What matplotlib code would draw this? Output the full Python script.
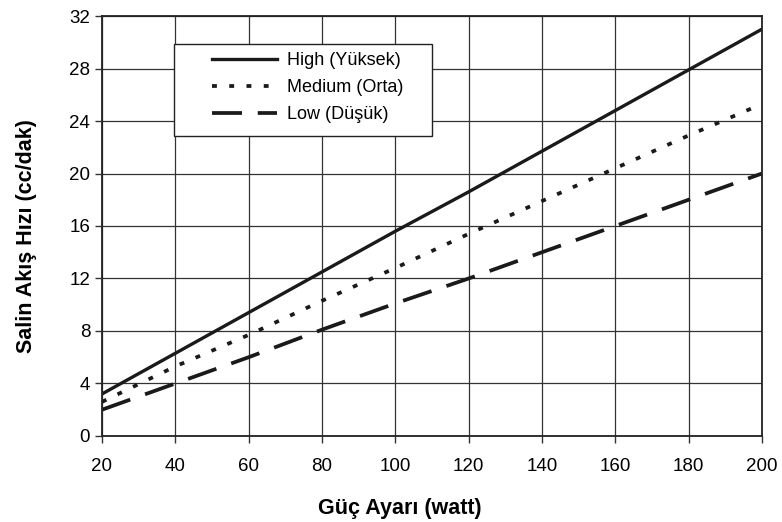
import numpy as np
import matplotlib.pyplot as plt
from matplotlib.patches import Rectangle

plt.rcParams['font.family'] = ['Liberation Sans', 'DejaVu Sans']

# Power setting (watt) and saline flow rate (cc/dak)
guc = [20, 40, 60, 80, 100, 120, 140, 160, 180, 200]
high = [3.2, 6.3, 9.4, 12.5, 15.6, 18.6, 21.7, 24.8, 27.9, 31.0]
medium = [2.6, 5.3, 7.7, 10.3, 12.8, 15.4, 17.9, 20.4, 22.9, 25.3]
low = [2.0, 4.0, 6.0, 8.1, 10.1, 12.0, 14.0, 16.0, 18.0, 20.0]

fig = plt.figure(figsize=(7.82, 5.22), dpi=100)
ax = fig.add_axes([0.1304, 0.1648, 0.8440, 0.8045])

ax.plot(guc, high, color='#1a1a1a', linewidth=2.4, linestyle='-', label='High (Yüksek)')
ax.plot(guc, medium, color='#1a1a1a', linewidth=2.7, linestyle=(0, (1.3, 3.3)), label='Medium (Orta)')
ax.plot(guc, low, color='#1a1a1a', linewidth=2.7, linestyle=(0, (8.0, 4.2)), label='Low (Düşük)')

ax.set_xlim(20, 200)
ax.set_ylim(0, 32)
ax.set_xticks(np.arange(20, 201, 20))
ax.set_yticks(np.arange(0, 33, 4))
ax.grid(True, color='#333333', linewidth=0.9)
ax.set_axisbelow(True)
ax.tick_params(axis='both', labelsize=13.5, direction='out', length=5, width=1, color='#333333')
ax.tick_params(axis='x', pad=11)
for s in ax.spines.values():
    s.set_linewidth(1.3)
    s.set_color('#222222')

ax.set_xlabel('Güç Ayarı (watt)', fontsize=15.5, fontweight='bold')
ax.set_ylabel('Salin Akış Hızı (cc/dak)', fontsize=15.5, fontweight='bold')
ax.xaxis.set_label_coords(0.452, -0.148)
ax.yaxis.set_label_coords(-0.098, 0.476)

# legend frame drawn separately to get the wide padding of the original
ax.add_patch(Rectangle((0.109, 0.714), 0.391, 0.219, transform=ax.transAxes,
                       facecolor='white', edgecolor='#222222', linewidth=1.0, zorder=3))
leg = ax.legend(loc='upper left', bbox_to_anchor=(0.166, 0.914), fontsize=13,
                handlelength=3.6, frameon=False, borderpad=0,
                labelspacing=0.56, handletextpad=0.6, borderaxespad=0)
leg.set_zorder(4)

plt.savefig('out.png', dpi=100)
